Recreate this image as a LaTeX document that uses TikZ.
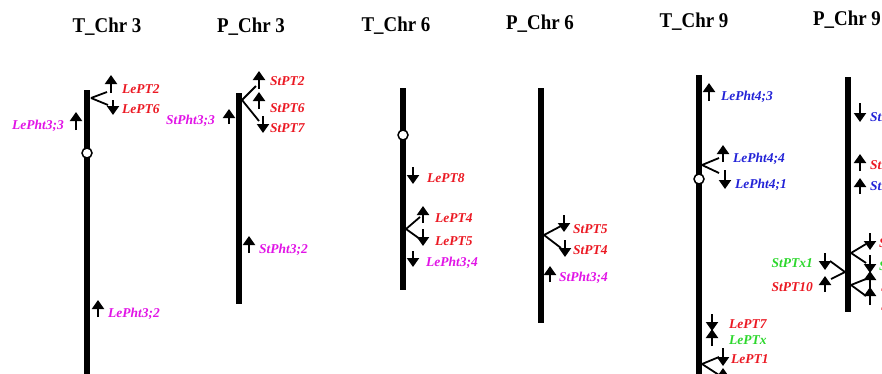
\documentclass[tikz,border=0pt]{standalone}
\usepackage{fontspec}
\setmainfont{Liberation Serif}
\usetikzlibrary{arrows.meta}
\definecolor{gred}{RGB}{235,25,35}
\definecolor{gmag}{RGB}{225,20,230}
\definecolor{gblue}{RGB}{35,35,215}
\definecolor{ggreen}{RGB}{45,215,45}
\tikzset{
  chrtitle/.style={font=\fontsize{21}{21}\selectfont\bfseries, xscale=0.9, inner sep=0pt, anchor=base},
  chrom/.style={line width=6pt, line cap=butt},
  centro/.style={circle, draw, line width=1.5pt, fill=white, minimum size=10pt, inner sep=0pt},
  gene/.style={font=\fontsize{13.5}{14}\selectfont\bfseries\itshape, inner sep=0pt, anchor=base west},
  geneL/.style={gene, anchor=base east},
  garr/.style={line width=2pt, -{Triangle[width=12pt,length=9pt]}},
  twig/.style={line width=1.8pt},
}
\begin{document}
\begin{tikzpicture}[x=1pt,y=-1pt]
\useasboundingbox (0,0) rectangle (882,373);
\clip (0,0) rectangle (882,373);

% ---------- titles ----------
\node[chrtitle] (t1) at (107,32) {T\_Chr 3};
\node[chrtitle] (t2) at (251,32) {P\_Chr 3};
\node[chrtitle] (t3) at (396,31) {T\_Chr 6};
\node[chrtitle] (t4) at (540,29) {P\_Chr 6};
\node[chrtitle] (t5) at (694,27) {T\_Chr 9};
\node[chrtitle] (t6) at (847,25) {P\_Chr 9};

% ---------- T_Chr 3 ----------
\draw[chrom] (87,90) -- (87,390);
\node[centro] (c1) at (87,153) {};
\coordinate (b1) at (91,98);
\draw[twig] (b1) -- (107,92);
\draw[twig] (b1) -- (108,105);
\draw[garr] (111,93) -- (111,75);
\draw[garr] (113,100) -- (113,115);
\node[gene, text=gred] (lept2) at (122,93) {LePT2};
\node[gene, text=gred] (lept6) at (122,113) {LePT6};
\draw[garr] (76,130) -- (76,112);
\node[geneL, text=gmag] (lepht33) at (64,129) {LePht3;3};
\draw[garr] (98,317) -- (98,300);
\node[gene, text=gmag] (lepht32) at (108,317) {LePht3;2};

% ---------- P_Chr 3 ----------
\draw[chrom] (239,93) -- (239,304);
\coordinate (b2) at (242,100);
\draw[twig] (b2) -- (256,86);
\draw[twig] (b2) -- (259,121);
\draw[garr] (259,89) -- (259,71);
\draw[garr] (259,109) -- (259,92);
\draw[garr] (263,116) -- (263,133);
\node[gene, text=gred] (stpt2) at (270,85) {StPT2};
\node[gene, text=gred] (stpt6) at (270,112) {StPT6};
\node[gene, text=gred] (stpt7) at (270,132) {StPT7};
\draw[garr] (229,124) -- (229,109);
\node[geneL, text=gmag] (stpht33) at (215,124) {StPht3;3};
\draw[garr] (249,253) -- (249,236);
\node[gene, text=gmag] (stpht32) at (259,253) {StPht3;2};

% ---------- T_Chr 6 ----------
\draw[chrom] (403,88) -- (403,290);
\node[centro] (c3) at (403,135) {};
\draw[garr] (413,167) -- (413,184);
\node[gene, text=gred] (lept8) at (427,182) {LePT8};
\coordinate (b3) at (406,229);
\draw[twig] (b3) -- (420,217);
\draw[twig] (b3) -- (420,239);
\draw[garr] (423,223) -- (423,206);
\draw[garr] (423,229) -- (423,246);
\node[gene, text=gred] (lept4) at (435,222) {LePT4};
\node[gene, text=gred] (lept5) at (435,245) {LePT5};
\draw[garr] (413,251) -- (413,267);
\node[gene, text=gmag] (lepht34) at (426,266) {LePht3;4};

% ---------- P_Chr 6 ----------
\draw[chrom] (541,88) -- (541,323);
\coordinate (b4) at (544,235);
\draw[twig] (b4) -- (561,226);
\draw[twig] (b4) -- (561,248);
\draw[garr] (564,215) -- (564,232);
\draw[garr] (565,240) -- (565,257);
\node[gene, text=gred] (stpt5) at (573,233) {StPT5};
\node[gene, text=gred] (stpt4) at (573,254) {StPT4};
\draw[garr] (550,282) -- (550,266);
\node[gene, text=gmag] (stpht34) at (559,281) {StPht3;4};

% ---------- T_Chr 9 ----------
\draw[chrom] (699,75) -- (699,390);
\node[centro] (c5) at (699,179) {};
\draw[garr] (709,101) -- (709,83);
\node[gene, text=gblue] (lepht43) at (721,100) {LePht4;3};
\coordinate (b5) at (702,165);
\draw[twig] (b5) -- (719,158);
\draw[twig] (b5) -- (719,173);
\draw[garr] (723,162) -- (723,145);
\draw[garr] (725,170) -- (725,189);
\node[gene, text=gblue] (lepht44) at (733,162) {LePht4;4};
\node[gene, text=gblue] (lepht41) at (735,188) {LePht4;1};
\draw[garr] (712,314) -- (712,331);
\node[gene, text=gred] (lept7) at (729,328) {LePT7};
\draw[garr] (712,346) -- (712,329);
\node[gene, text=ggreen] (leptx) at (729,344) {LePTx};
\coordinate (b5b) at (702,364);
\draw[twig] (b5b) -- (719,357);
\draw[twig] (b5b) -- (719,375);
\draw[garr] (723,348) -- (723,366);
\node[gene, text=gred] (lept1) at (731,363) {LePT1};
\draw[garr] (723,386) -- (723,368);
\node[gene, text=gred] (lept3) at (731,383) {LePT3};

% ---------- P_Chr 9 ----------
\draw[chrom] (848,77) -- (848,312);
\draw[garr] (860,103) -- (860,122);
\node[gene, text=gblue] (stpht41) at (870,121) {StPht4;1};
\draw[garr] (860,171) -- (860,154);
\node[gene, text=gred] (stpt8) at (870,169) {StPT8};
\draw[garr] (860,194) -- (860,178);
\node[gene, text=gblue] (stpht42) at (870,190) {StPht4;2};
\coordinate (b6) at (851,253);
\draw[twig] (b6) -- (866,244);
\draw[twig] (b6) -- (866,263);
\draw[garr] (870,233) -- (870,250);
\draw[garr] (870,255) -- (870,273);
\node[gene, text=gred] (stpt9) at (879,247) {StPT9};
\node[gene, text=ggreen] (stptx) at (879,270) {StPTx};
\coordinate (b6b) at (851,285);
\draw[twig] (b6b) -- (866,279);
\draw[twig] (b6b) -- (866,296);
\draw[garr] (870,289) -- (870,271);
\draw[garr] (870,305) -- (870,287);
\node[gene, text=gred] (stpt1) at (881,291) {StPT1};
\node[gene, text=gred] (stpt3) at (881,310) {StPT3};
\coordinate (b6c) at (845,272);
\draw[twig] (b6c) -- (830,261);
\draw[twig] (b6c) -- (831,279);
\draw[garr] (825,253) -- (825,270);
\draw[garr] (825,292) -- (825,276);
\node[geneL, text=ggreen] (stptx1) at (813,267) {StPTx1};
\node[geneL, text=gred] (stpt10) at (813,291) {StPT10};
\end{tikzpicture}
\end{document}
